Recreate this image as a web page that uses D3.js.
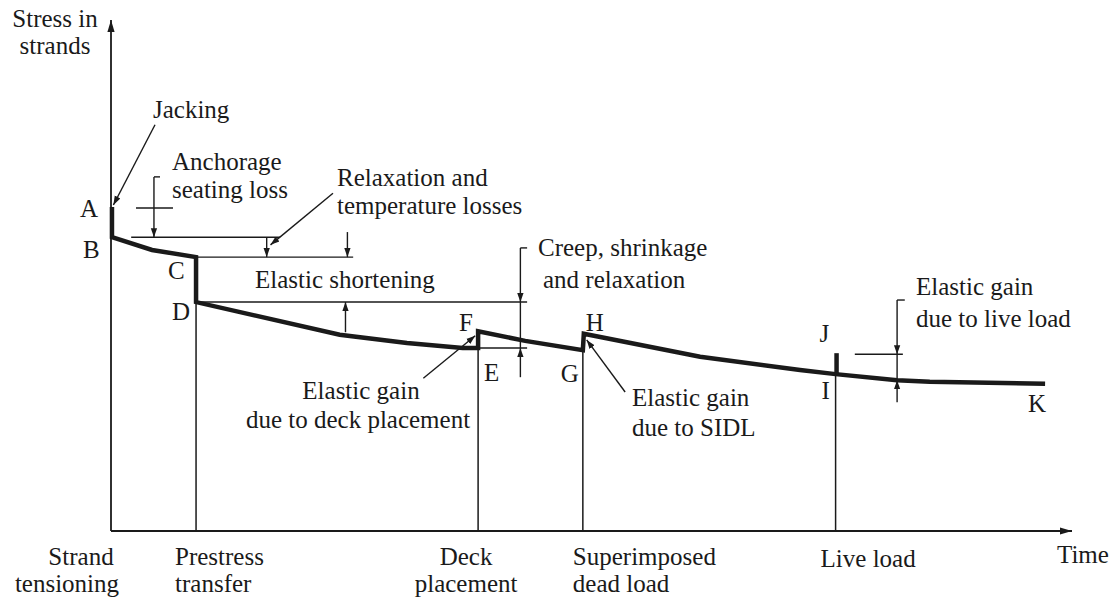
<!DOCTYPE html>
<html>
<head>
<meta charset="utf-8">
<script src="https://cdn.jsdelivr.net/npm/d3@7"></script>
<style>
  body { margin: 0; background: #fff; }
  svg text { font-family: "Liberation Serif", "DejaVu Serif", serif; font-size: 25px; fill: #1a1a1a; }
</style>
</head>
<body>
<svg id="chart" width="1115" height="602" font-family="Liberation Serif, DejaVu Serif, serif"></svg>
<script>
// stress path in strands (time units 0..100, stress units 0..100)
const pathTime   = [0.1, 0.1, 4.27, 8.85, 8.85, 23.8, 30.8, 36.6, 38.2, 38.2, 43.1, 49.1, 49.2, 61.3, 71.7, 75.4, 81.8, 85.2, 97.2];
const pathStress = [63.4, 57.5, 55.0, 53.6, 44.8, 38.4, 36.8, 35.8, 35.8, 39.1, 37.2, 35.4, 38.6, 34.1, 31.5, 30.7, 29.5, 29.2, 28.8];

// events along the time axis
const eventNames  = [["Strand", "tensioning"], ["Prestress", "transfer"], ["Deck", "placement"], ["Superimposed", "dead load"], ["Live load"]];
const eventTime   = [0, 8.85, 38.2, 49.1, 75.4];
const eventStress = [63.4, 44.8, 35.8, 35.4, 30.7];

// live load spike (I -> J)
const liveSpikeTime = 75.5;
const liveSpikeStress = [30.7, 34.8];

// point letters
const pointNames  = ["A", "B", "C", "D", "E", "F", "G", "H", "I", "J", "K"];
const pointTime   = [0.1, 0.1, 8.85, 8.85, 38.2, 38.2, 49.1, 49.2, 75.4, 75.5, 97.2];
const pointStress = [63.4, 57.5, 53.6, 44.8, 35.8, 39.1, 35.4, 38.6, 30.7, 34.8, 28.8];

// reference levels: [stress, t0, t1]
const refLevels = [[63.2, 2.6, 6.45], [57.5, 2.1, 17.6], [53.6, 8.85, 25.2], [44.8, 8.85, 43.3], [35.8, 36.6, 43.3], [34.6, 77.4, 82.4]];

// dimension arrows: [time, from stress, to stress] (arrow at "to")
const dimArrows = [[4.47, 69.3, 57.5], [16.2, 57.5, 53.6], [24.6, 58.5, 53.6], [24.4, 38.9, 44.8],
                   [42.6, 55.4, 44.8], [42.6, 30.1, 35.8], [81.8, 45.2, 34.6], [81.8, 25.2, 29.5]];
const dimLines = [[42.6, 44.8, 35.8], [81.8, 34.6, 29.5]];
// bracket ticks: [stress, t0, t1]
const bracketTicks = [[69.3, 4.47, 5.1], [55.4, 42.6, 43.3], [45.2, 81.8, 82.6]];

// leader lines: [t0, s0, t1, s1]
const leaders = [[4.58, 79.5, 0.25, 63.8], [23.1, 66.1, 16.6, 56.0], [32.5, 29.9, 37.9, 38.2], [53.5, 27.2, 49.5, 37.4]];

const svg = d3.select("#chart");
const x = d3.scaleLinear().domain([0, 100]).range([111, 1072]);
const y = d3.scaleLinear().domain([0, 100]).range([531, 20]);

const defs = svg.append("defs");
defs.append("marker")
  .attr("id", "arr").attr("viewBox", "0 0 10 10").attr("refX", 10).attr("refY", 5)
  .attr("markerWidth", 9).attr("markerHeight", 9).attr("markerUnits", "userSpaceOnUse")
  .attr("orient", "auto")
  .append("path").attr("d", "M0,1.5 L10,5 L0,8.5 Z").attr("fill", "#1a1a1a");
defs.append("marker")
  .attr("id", "axarr").attr("viewBox", "0 0 10 10").attr("refX", 10).attr("refY", 5)
  .attr("markerWidth", 12).attr("markerHeight", 12).attr("markerUnits", "userSpaceOnUse")
  .attr("orient", "auto")
  .append("path").attr("d", "M0,2 L10,5 L0,8 Z").attr("fill", "#1a1a1a");

const ink = "#1a1a1a";

// axes
svg.append("line").attr("x1", x(0)).attr("y1", y(0)).attr("x2", x(0)).attr("y2", y(100))
  .attr("stroke", ink).attr("stroke-width", 1.8).attr("marker-end", "url(#axarr)");
svg.append("line").attr("x1", x(0)).attr("y1", y(0)).attr("x2", x(100)).attr("y2", y(0))
  .attr("stroke", ink).attr("stroke-width", 2.2).attr("marker-end", "url(#axarr)");

// drop lines from events
svg.selectAll(".drop").data(eventTime.slice(1)).join("line")
  .attr("x1", d => x(d)).attr("x2", d => x(d))
  .attr("y1", (d, i) => y(eventStress[i + 1])).attr("y2", y(0))
  .attr("stroke", ink).attr("stroke-width", 1.5);

// reference levels
svg.selectAll(".lvl").data(refLevels).join("line")
  .attr("x1", d => x(d[1])).attr("x2", d => x(d[2]))
  .attr("y1", d => y(d[0])).attr("y2", d => y(d[0]))
  .attr("stroke", ink).attr("stroke-width", 1.4);

svg.selectAll(".tick").data(bracketTicks).join("line")
  .attr("x1", d => x(d[1])).attr("x2", d => x(d[2]))
  .attr("y1", d => y(d[0])).attr("y2", d => y(d[0]))
  .attr("stroke", ink).attr("stroke-width", 1.4);

svg.selectAll(".dim").data(dimArrows).join("line")
  .attr("x1", d => x(d[0])).attr("x2", d => x(d[0]))
  .attr("y1", d => y(d[1])).attr("y2", d => y(d[2]))
  .attr("stroke", ink).attr("stroke-width", 1.4).attr("marker-end", "url(#arr)");

svg.selectAll(".diml").data(dimLines).join("line")
  .attr("x1", d => x(d[0])).attr("x2", d => x(d[0]))
  .attr("y1", d => y(d[1])).attr("y2", d => y(d[2]))
  .attr("stroke", ink).attr("stroke-width", 1.4);

svg.selectAll(".lead").data(leaders).join("line")
  .attr("x1", d => x(d[0])).attr("y1", d => y(d[1]))
  .attr("x2", d => x(d[2])).attr("y2", d => y(d[3]))
  .attr("stroke", ink).attr("stroke-width", 1.4).attr("marker-end", "url(#arr)");

// stress path
const line = d3.line().x((d, i) => x(pathTime[i])).y((d, i) => y(pathStress[i]));
svg.append("path").datum(pathTime)
  .attr("d", line).attr("fill", "none").attr("stroke", ink)
  .attr("stroke-width", 4.5).attr("stroke-linejoin", "miter");

svg.append("line")
  .attr("x1", x(liveSpikeTime)).attr("x2", x(liveSpikeTime))
  .attr("y1", y(liveSpikeStress[0])).attr("y2", y(liveSpikeStress[1]))
  .attr("stroke", ink).attr("stroke-width", 4.5);

// point letters (offsets in px)
const letterOffset = { A: [-32, 10], B: [-29, 21], C: [-28, 22], D: [-24, 18], E: [6, 33], F: [-19, 0], G: [-22, 32], H: [2, -3], I: [-14, 25], J: [-17, -11], K: [-17, 28] };
svg.selectAll(".pt").data(pointNames).join("text")
  .attr("x", (d, i) => x(pointTime[i]) + letterOffset[d][0])
  .attr("y", (d, i) => y(pointStress[i]) + letterOffset[d][1])
  .text(d => d);

// event labels under the axis
const eventLayout = [
  { anchor: "middle", dx: [-30, -44] },
  { anchor: "start", dx: [-21, -21] },
  { anchor: "middle", dx: [-12, -12] },
  { anchor: "start", dx: [-10, -10] },
  { anchor: "start", dx: [-15] }
];
eventNames.forEach((lines, i) => {
  lines.forEach((t, j) => {
    svg.append("text")
      .attr("x", x(eventTime[i]) + eventLayout[i].dx[j])
      .attr("y", (j === 0 ? 565 : 592) + (i === 4 ? 2 : 0))
      .attr("text-anchor", eventLayout[i].anchor)
      .text(t);
  });
});

// axis titles
svg.append("text").attr("x", 1057).attr("y", 563).text("Time");
svg.append("text").attr("x", 55).attr("y", 27).attr("text-anchor", "middle").text("Stress in");
svg.append("text").attr("x", 55).attr("y", 54).attr("text-anchor", "middle").text("strands");

// annotations
const notes = [
  ["Jacking", 153, 118, "start"],
  ["Anchorage", 172, 170, "start"],
  ["seating loss", 172, 198, "start"],
  ["Relaxation and", 337, 186, "start"],
  ["temperature losses", 337, 214, "start"],
  ["Elastic shortening", 255, 288, "start"],
  ["Creep, shrinkage", 538, 256, "start"],
  ["and relaxation", 543, 288, "start"],
  ["Elastic gain", 361, 399, "middle"],
  ["due to deck placement", 358, 428, "middle"],
  ["Elastic gain", 632, 406, "start"],
  ["due to SIDL", 632, 436, "start"],
  ["Elastic gain", 916, 295, "start"],
  ["due to live load", 916, 327, "start"]
];
svg.selectAll(".note").data(notes).join("text")
  .attr("x", d => d[1]).attr("y", d => d[2])
  .attr("text-anchor", d => d[3])
  .text(d => d[0]);
</script>
</body>
</html>
